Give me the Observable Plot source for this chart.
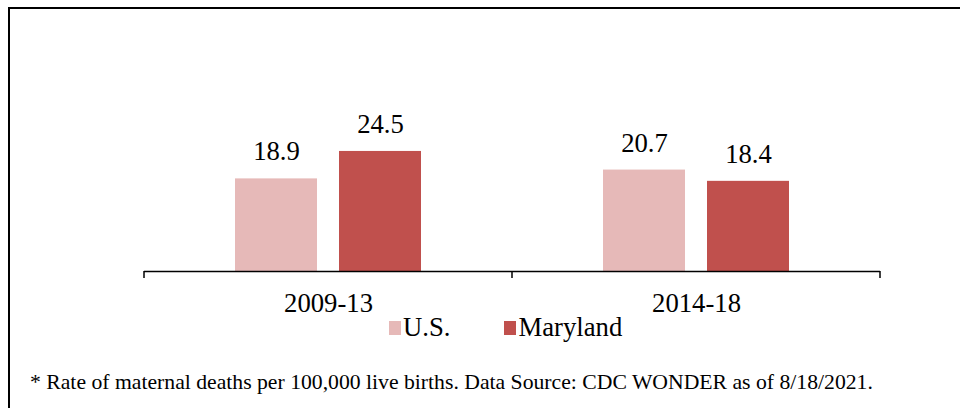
<!DOCTYPE html>
<html><head><meta charset="utf-8">
<script src="https://cdn.jsdelivr.net/npm/d3@7"></script>
<script src="https://cdn.jsdelivr.net/npm/@observablehq/plot@0.6"></script>
<style>
body{margin:0;background:#fff;}
#wrap{position:relative;width:960px;height:408px;overflow:hidden;color:#000;font-family:"Liberation Serif","Times New Roman",serif;}
#border{position:absolute;left:8px;top:7px;width:1000px;height:1000px;border-left:2px solid #000;border-top:2px solid #000;}
#chart{position:absolute;left:0;top:0;}
#legend{position:absolute;left:389px;top:312px;display:flex;align-items:center;font-size:26.7px;line-height:30px;}
#legend .item{display:flex;align-items:center;margin-right:54px;}
#legend .sw{width:12px;height:14px;margin-right:2px;margin-top:2px;}
#note{position:absolute;left:30px;top:370px;font-size:21.7px;line-height:24px;white-space:nowrap;}
</style>
</head><body>
<div id="wrap"><div id="border"></div><div id="chart"></div><div id="legend"></div><div id="note"></div></div>
<script>
const periods = ["2009-13", "2014-18"];
const series = ["U.S.", "Maryland"];
const usValues = [18.9, 20.7];
const marylandValues = [24.5, 18.4];
const colors = ["#E6B9B8", "#C0504D"];
const footnote = "* Rate of maternal deaths per 100,000 live births. Data Source: CDC WONDER as of 8/18/2021.";

const data = periods.flatMap((p, i) => [
  {period: p, series: series[0], value: usValues[i]},
  {period: p, series: series[1], value: marylandValues[i]}
]);

const font = '"Liberation Serif","Times New Roman",serif';
const plot = Plot.plot({
  width: 960, height: 330,
  marginTop: 26, marginBottom: 59, marginLeft: 143, marginRight: 80,
  style: {fontFamily: font, fontSize: "26.7px", color: "#000", background: "transparent"},
  fx: {domain: periods, padding: 0, label: null},
  x: {domain: series, paddingInner: 0.21, paddingOuter: 0.86, axis: null},
  y: {domain: [0, 50], axis: null},
  color: {domain: series, range: colors},
  marks: [
    Plot.barY(data, {fx: "period", x: "series", y: "value", fill: "series"}),
    Plot.text(data, {fx: "period", x: "series", y: "value", text: d => d.value.toFixed(1), dy: -27, fontSize: 26.7, fill: "#000"}),
    Plot.ruleY([0], {stroke: "#000", strokeWidth: 1.5}),
    Plot.axisFx({anchor: "bottom", tickSize: 0, tickPadding: 22, fontSize: 26.7, label: null, fill: "#000"})
  ]
});
document.getElementById("chart").append(plot);

// category-boundary tick marks, placed with the library's own scales
const fx = plot.scale("fx"), ys = plot.scale("y");
const y0 = ys.apply(0);
const edges = periods.map(p => fx.apply(p)).concat([fx.apply(periods[periods.length - 1]) + fx.bandwidth]);
d3.select(plot).append("g").selectAll("line").data(edges).join("line")
  .attr("x1", d => d).attr("x2", d => d).attr("y1", y0).attr("y2", y0 + 7)
  .attr("stroke", "#000").attr("stroke-width", 1.5);

const legend = d3.select("#legend");
series.forEach((s, i) => {
  const it = legend.append("div").attr("class", "item");
  it.append("div").attr("class", "sw").style("background", colors[i]);
  it.append("span").text(s);
});
document.getElementById("note").textContent = footnote;
</script>
</body></html>
